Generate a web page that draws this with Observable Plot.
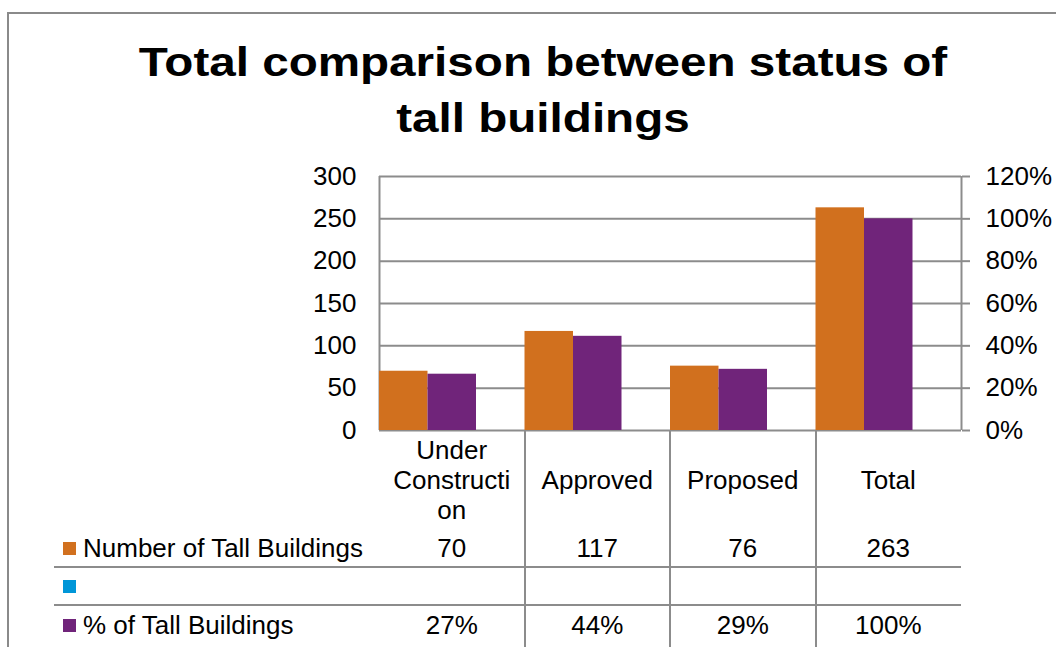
<!DOCTYPE html>
<html>
<head>
<meta charset="utf-8">
<script src="https://cdn.jsdelivr.net/npm/d3@7"></script>
<script src="https://cdn.jsdelivr.net/npm/@observablehq/plot@0.6"></script>
<style>
  html, body { margin: 0; padding: 0; background: #fff; }
  #wrap { position: relative; width: 1056px; height: 647px; overflow: hidden; background: #fff;
          font-family: "Liberation Sans", Arial, sans-serif; color: #000; }
  #border { position: absolute; left: 7px; top: 12px; width: 1200px; height: 800px;
            border-left: 2px solid #8a8a8a; border-top: 2px solid #8a8a8a; }
  #title { position: absolute; left: 30px; width: 1026px; top: 34px; text-align: center;
           font-weight: bold; font-size: 40px; line-height: 56px; white-space: pre-line;
           transform: scaleX(1.19); transform-origin: 50% 50%; }
  #chart { position: absolute; left: 0; top: 0; }
  .txt { position: absolute; font-size: 26px; white-space: pre-line; }
  .center { text-align: center; transform: translate(-50%, -50%); }
  .left { transform: translateY(-50%); }
  .line { position: absolute; background: #8c8c8c; }
  .sw { position: absolute; width: 13px; height: 13px; }
</style>
</head>
<body>
<div id="wrap">
  <div id="border"></div>
  <div id="title"></div>
</div>
<script>
// ---- data ----
const titleText = "Total comparison between status of\ntall buildings";
const categories = ["Under Construction", "Approved", "Proposed", "Total"];
const categoryLabels = ["Under\nConstructi\non", "Approved", "Proposed", "Total"];
const numberOfBuildings = [70, 117, 76, 263];
const percentOfBuildings = [26.6, 44.5, 28.9, 100];   // bar heights (secondary axis, %)
const percentLabels = ["27%", "44%", "29%", "100%"];  // data table text
const seriesNames = ["Number of Tall Buildings", "", "% of Tall Buildings"];
const seriesColors = ["#d1701e", "#0096d8", "#70247a"];
const leftTicks = [0, 50, 100, 150, 200, 250, 300];
const rightTicks = [0, 20, 40, 60, 80, 100, 120];

// ---- layout ----
const W = 1056, H = 647;
const mLeft = 379, mRight = 95, mTop = 176, mBottom = 217;
const pctMax = 120, countMax = 300;
const slot = 1 / 3; // each bar takes a third of the category width
const grid = "#8c8c8c";

document.getElementById("title").textContent = titleText;

const rows = categories.map((c, i) => ({
  i, category: c, count: numberOfBuildings[i], pct: percentOfBuildings[i]
}));
const toPrimary = p => p * countMax / pctMax;

const chart = Plot.plot({
  width: W, height: H,
  marginLeft: mLeft, marginRight: mRight, marginTop: mTop, marginBottom: mBottom,
  style: { fontFamily: "'Liberation Sans', Arial, sans-serif", color: "#000", background: "transparent", overflow: "visible" },
  x: { domain: [0, categories.length], axis: null },
  y: { domain: [0, countMax], label: null },
  marks: [
    Plot.ruleY(leftTicks, { stroke: grid, strokeWidth: 2 }),
    Plot.ruleX([0, categories.length], { y1: 0, y2: countMax, stroke: grid, strokeWidth: 2 }),
    Plot.rectY(rows, { x1: d => d.i, x2: d => d.i + slot, y: "count", fill: seriesColors[0] }),
    Plot.rectY(rows, { x1: d => d.i + slot, x2: d => d.i + 2 * slot, y: d => toPrimary(d.pct), fill: seriesColors[2] }),
    Plot.axisY(leftTicks, { anchor: "left", tickSize: 0, tickPadding: 23, fontSize: 26, label: null }),
    Plot.axisY(rightTicks.map(toPrimary), { anchor: "right", tickSize: 8, tickPadding: 16, fontSize: 26, stroke: grid, strokeWidth: 2, label: null,
      tickFormat: d => Math.round(d * pctMax / countMax) + "%" })
  ]
});
chart.id = "chart";
const wrap = document.getElementById("wrap");
wrap.appendChild(chart);

// ---- data table positioned with the chart's own scales ----
const sxObj = chart.scale("x"), syObj = chart.scale("y");
const lin = s => v => s.range[0] + (v - s.domain[0]) / (s.domain[1] - s.domain[0]) * (s.range[1] - s.range[0]);
const sx = sxObj.apply ? v => sxObj.apply(v) : lin(sxObj);
const sy = syObj.apply ? v => syObj.apply(v) : lin(syObj);

const tableLeft = 54;
const y0 = sy(0);
const headerCenter = 480;
const rowCenters = [548, 586, 625];
const rowLines = [567, 605];

function add(cls, styles, text) {
  const el = document.createElement("div");
  el.className = cls;
  Object.assign(el.style, styles);
  if (text != null) el.textContent = text;
  wrap.appendChild(el);
  return el;
}

// vertical column separators
for (let i = 1; i < categories.length; i++) {
  add("line", { left: (sx(i) - 1) + "px", top: y0 + "px", width: "2px", height: (H - y0) + "px" });
}
// horizontal row separators
rowLines.forEach(y => add("line", { left: tableLeft + "px", top: (y - 1) + "px", width: (sx(categories.length) - tableLeft) + "px", height: "2px" }));

// category header labels
categoryLabels.forEach((lab, i) => {
  add("txt center", { left: sx(i + 0.5) + "px", top: headerCenter + "px", lineHeight: "30px" }, lab);
});

// row legends + names
seriesNames.forEach((name, r) => {
  add("sw", { left: "63px", top: (rowCenters[r] - 6.5) + "px", background: seriesColors[r] });
  if (name) add("txt left", { left: "83px", top: rowCenters[r] + "px", lineHeight: "30px" }, name);
});

// values
numberOfBuildings.forEach((v, i) => add("txt center", { left: sx(i + 0.5) + "px", top: rowCenters[0] + "px", lineHeight: "30px" }, String(v)));
percentLabels.forEach((v, i) => add("txt center", { left: sx(i + 0.5) + "px", top: rowCenters[2] + "px", lineHeight: "30px" }, v));
</script>
</body>
</html>
